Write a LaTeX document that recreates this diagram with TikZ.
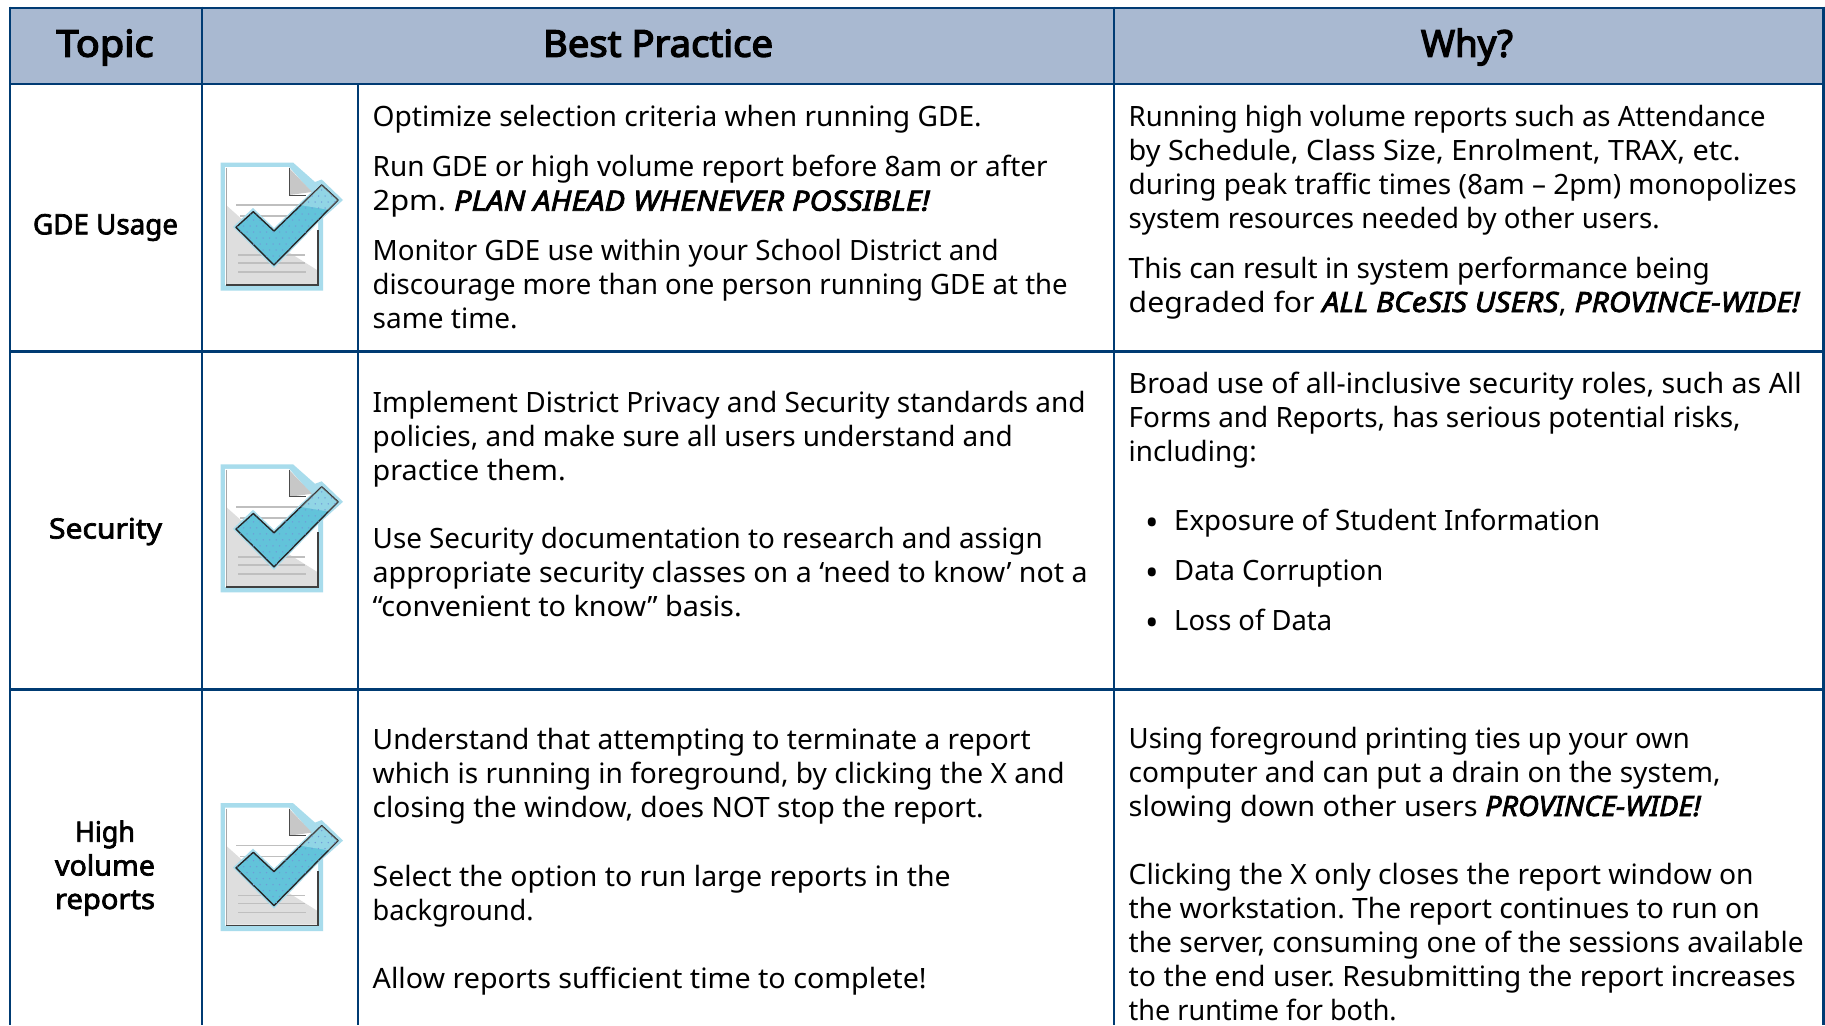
\documentclass[tikz,border=0pt]{standalone}
\usepackage{fontspec}
\setmainfont{Noto Sans}
\newfontfamily\bfam{Noto Sans}[FakeBold=2.5]
\newfontfamily\hfam{Noto Sans}[FakeBold=3.5]
\newcommand{\bi}[1]{{\bfam\itshape #1}}
\newcommand{\fitw}[2]{\resizebox{#1pt}{\height}{#2}}
\definecolor{rule}{HTML}{003B73}
\definecolor{head}{HTML}{A9B9D1}
\definecolor{halo}{HTML}{A8DCEC}
\definecolor{tick}{HTML}{62C3DA}
\definecolor{dotc}{HTML}{6F9BD8}
\tikzset{
  body/.style={anchor=base west,inner sep=0pt,font=\fontsize{28}{34}\selectfont,text=black},
  bul/.style={anchor=base,inner sep=0pt,font=\fontsize{36}{34}\selectfont,text=black},
  lab/.style={anchor=base,inner sep=0pt,font=\fontsize{28}{34}\bfam\selectfont,text=black},
  hd/.style={anchor=base,inner sep=0pt,font=\fontsize{37}{40}\hfam\selectfont,text=black},
  gridline/.style={draw=rule,line width=2.6pt},
  checkicon/.pic={
    \fill[halo] (220.5,162.5)--(293,162.5)--(315,182)--(321.7,179.5)--(343,200)--(323,218)--(323,290.5)--(220.5,290.5)--cycle;
    \fill[white] (225,167)--(289,167)--(318,200)--(318,285)--(225,285)--cycle;
    \fill[black!13] (226,205)--(245,222)--(285,250)--(317,270)--(317,284)--(226,284)--cycle;
    \draw[black!25,line width=1.6pt] (236,205)--(310,205) (240,216)--(300,216) (238,255)--(305,255) (238,263)--(305,263) (238,272)--(306,272);
    \draw[black!35,line width=1pt] (226,168)--(226,284);
    \draw[black!75,line width=1.4pt] (226,285)--(318,285)--(318,230);
    \fill[black!22] (289,168)--(312,192)--(289,195)--cycle;
    \draw[black!70,line width=1pt] (289,168)--(289,195)--(306,195);
    \fill[halo] (340,200)--(322,182)--(274,228)--(253,208)--(233,227)--(274,268)--cycle;
    \fill[tick,draw=black!85,line width=1.4pt,line join=round] (338,200)--(321.7,185)--(274,231)--(253.3,211.7)--(236,227.3)--(274,265)--cycle;
    \begin{scope}
      \clip (338,200)--(321.7,185)--(274,231)--(253.3,211.7)--(236,227.3)--(274,265)--cycle;
      \fill[white,opacity=.3] (300,205)--(322,183)--(340,200)--(330,210)--cycle;
      \foreach \ix in {0,...,16}{\foreach \iy in {0,...,14}{
        \fill[dotc] ({234+\ix*6.5+mod(\iy,2)*3.2},{184+\iy*6}) circle (.75pt);}}
    \end{scope}
  }
}
\begin{document}
\frenchspacing
\begin{tikzpicture}[x=1pt,y=-1pt]
\useasboundingbox (0,0) rectangle (1825,1025);
\fill[white] (0,0) rectangle (1825,1025);
\fill[head] (10,8) rectangle (1823,84);
% rules
\draw[gridline] (10,8)--(1823.5,8);
\draw[gridline] (10,84)--(1823.5,84);
\draw[gridline] (10,351.5)--(1823.5,351.5);
\draw[gridline] (10,689.5)--(1823.5,689.5);
\draw[gridline] (10,6.7)--(10,1025);
\draw[gridline] (202,6.7)--(202,1025);
\draw[gridline] (358,84)--(358,1025);
\draw[gridline] (1114,6.7)--(1114,1025);
\draw[gridline] (1823.5,6.7)--(1823.5,1025);
% header
\node[hd] (h1) at (105,56.7) {\fitw{97}{Topic}};
\node[hd] (h2) at (658,56.7) {\fitw{230}{Best Practice}};
\node[hd] (h3) at (1467,56.7) {\fitw{92}{Why?}};
% topic labels
\node[lab] (t1) at (105.5,234.3) {\fitw{145}{GDE Usage}};
\node[lab] (t2) at (105.5,538.5) {\fitw{113}{Security}};
\node[lab] (t3a) at (105,841.7) {\fitw{60}{High}};
\node[lab] (t3b) at (105,875.5) {\fitw{100}{volume}};
\node[lab] (t3c) at (105,909) {\fitw{100}{reports}};
% icons
\pic {checkicon};
\pic[yshift=-301.8pt] {checkicon};
\pic[yshift=-640.6pt] {checkicon};
% row 1 practice
\node[body] (a1) at (372.5,126) {\fitw{609}{Optimize selection criteria when running GDE.}};
\node[body] (a2) at (372.5,176.7) {\fitw{675}{Run GDE or high volume report before 8am or after}};
\node[body] (a3) at (372.5,210.7) {\fitw{557}{2pm. \bi{PLAN AHEAD WHENEVER POSSIBLE!}}};
\node[body] (a4) at (372.5,260.7) {\fitw{626}{Monitor GDE use within your School District and}};
\node[body] (a5) at (372.5,294.7) {\fitw{695}{discourage more than one person running GDE at the}};
\node[body] (a6) at (372.5,328.7) {\fitw{145}{same time.}};
% row 1 why
\node[body] (b1) at (1128.5,126) {\fitw{637}{Running high volume reports such as Attendance}};
\node[body] (b2) at (1128.5,160) {\fitw{612}{by Schedule, Class Size, Enrolment, TRAX, etc.}};
\node[body] (b3) at (1128.5,194) {\fitw{668}{during peak traffic times (8am – 2pm) monopolizes}};
\node[body] (b4) at (1128.5,228) {\fitw{531}{system resources needed by other users.}};
\node[body] (b5) at (1128.5,278) {\fitw{581}{This can result in system performance being}};
\node[body] (b6) at (1128.5,312) {\fitw{671}{degraded for \bi{ALL BCeSIS USERS}, \bi{PROVINCE-WIDE!}}};
% row 2 practice
\node[body] (c1) at (372.5,412.7) {\fitw{713}{Implement District Privacy and Security standards and}};
\node[body] (c2) at (372.5,446.7) {\fitw{640}{policies, and make sure all users understand and}};
\node[body] (c3) at (372.5,480.7) {\fitw{193}{practice them.}};
\node[body] (c4) at (372.5,548.3) {\fitw{670}{Use Security documentation to research and assign}};
\node[body] (c5) at (372.5,582.3) {\fitw{715}{appropriate security classes on a ‘need to know’ not a}};
\node[body] (c6) at (372.5,616) {\fitw{369}{“convenient to know” basis.}};
% row 2 why
\node[body] (d1) at (1128.5,393) {\fitw{673}{Broad use of all-inclusive security roles, such as All}};
\node[body] (d2) at (1128.5,427) {\fitw{612}{Forms and Reports, has serious potential risks,}};
\node[body] (d3) at (1128.5,461) {\fitw{128}{including:}};
\node[bul] (d4b) at (1152,535.7) {•};
\node[body] (d4) at (1174,530.7) {\fitw{426}{Exposure of Student Information}};
\node[bul] (d5b) at (1152,585.7) {•};
\node[body] (d5) at (1174,580.7) {\fitw{209}{Data Corruption}};
\node[bul] (d6b) at (1152,635.7) {•};
\node[body] (d6) at (1174,630.7) {\fitw{158}{Loss of Data}};
% row 3 practice
\node[body] (e1) at (372.5,749.3) {\fitw{658}{Understand that attempting to terminate a report}};
\node[body] (e2) at (372.5,783.5) {\fitw{692}{which is running in foreground, by clicking the X and}};
\node[body] (e3) at (372.5,817.3) {\fitw{611}{closing the window, does NOT stop the report.}};
\node[body] (e4) at (372.5,886.7) {\fitw{578}{Select the option to run large reports in the}};
\node[body] (e5) at (372.5,920.7) {\fitw{161}{background.}};
\node[body] (e6) at (372.5,988.3) {\fitw{554}{Allow reports sufficient time to complete!}};
% row 3 why
\node[body] (f1) at (1128.5,748) {\fitw{561}{Using foreground printing ties up your own}};
\node[body] (f2) at (1128.5,782.3) {\fitw{592}{computer and can put a drain on the system,}};
\node[body] (f3) at (1128.5,816) {\fitw{572}{slowing down other users \bi{PROVINCE-WIDE!}}};
\node[body] (f4) at (1128.5,884) {\fitw{625}{Clicking the X only closes the report window on}};
\node[body] (f5) at (1128.5,918) {\fitw{631}{the workstation. The report continues to run on}};
\node[body] (f6) at (1128.5,952) {\fitw{675}{the server, consuming one of the sessions available}};
\node[body] (f7) at (1128.5,986) {\fitw{667}{to the end user. Resubmitting the report increases}};
\node[body] (f8) at (1128.5,1020) {\fitw{268}{the runtime for both.}};
\end{tikzpicture}
\end{document}
